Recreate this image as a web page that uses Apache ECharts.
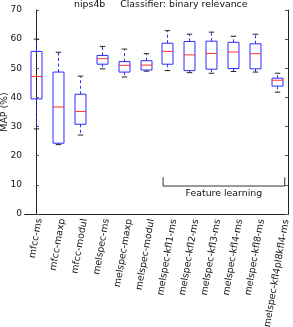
<!DOCTYPE html>
<html><head><meta charset="utf-8">
<script src="https://cdn.jsdelivr.net/npm/echarts@6/dist/echarts.min.js"></script>
<style>html,body{margin:0;padding:0;background:#fff}#c{width:293px;height:327px}</style>
</head><body><div id="c"></div>
<script>
// ---- data ----
const categories = ['mfcc-ms','mfcc-maxp','mfcc-modul','melspec-ms','melspec-maxp','melspec-modul','melspec-kfl1-ms','melspec-kfl2-ms','melspec-kfl3-ms','melspec-kfl4-ms','melspec-kfl8-ms','melspec-kfl4pl8kfl4-ms'];
const whiskerLow  = [29.2, 23.8, 27.1, 49.8, 47.0, 49.0, 49.2, 48.5, 48.3, 48.9, 48.7, 41.8];
const q1          = [39.5, 24.3, 30.8, 51.4, 48.7, 49.4, 51.4, 49.2, 49.7, 49.9, 49.8, 43.9];
const median      = [47.2, 36.7, 35.2, 53.3, 51.0, 51.1, 55.8, 54.6, 55.1, 55.6, 55.0, 45.9];
const q3          = [55.8, 48.7, 41.1, 54.4, 52.3, 52.6, 58.6, 59.2, 59.3, 58.9, 58.4, 46.6];
const whiskerHigh = [60.0, 55.5, 47.3, 57.5, 56.6, 55.0, 62.9, 61.7, 62.4, 61.0, 61.7, 48.3];
const yTickValues = [0, 10, 20, 30, 40, 50, 60, 70];
const titleText = 'nips4b     Classifier: binary relevance';
const yAxisTitle = 'MAP (%)';
const groupLabel = 'Feature learning';

// ---- styling / annotation placement ----
const FONT = 'DejaVu Sans';
const FS = 9.4;
const BLUE = '#2b2bff', RED = '#ff3030', CAP = '#222';
const bracket = { from: 5.8, to: 11.35, y: 9.6, yTick: 12.6, textY: 7.0 };

// per-label offset so each rotated label is centred under its tick (matplotlib ha='center')
const cv = document.createElement('canvas').getContext('2d');
cv.font = FS + 'px "' + FONT + '"';
const rot = 80;
const richLabels = {};
categories.forEach((c, i) => {
  const L = cv.measureText(c).width;
  richLabels['p' + i] = { padding: [0.171 * L, 0, 0, 0], fontSize: FS, fontFamily: FONT, color: '#111' };
});

const boxData = categories.map((c, i) => [i, whiskerLow[i], q1[i], median[i], q3[i], whiskerHigh[i]]);

function renderBox(params, api) {
  const i = api.value(0);
  const band = api.size([1, 0])[0];
  const hw = band * 0.25, cw = band * 0.125;
  const x = Math.round(api.coord([i, 0])[0]) + 0.5;
  const Y = v => api.coord([i, v])[1];
  const yl = Y(api.value(1)), y1 = Y(api.value(2)), ym = Y(api.value(3)), y3 = Y(api.value(4)), yh = Y(api.value(5));
  const dash = { stroke: BLUE, lineWidth: 1, lineDash: [3, 2.5], fill: null };
  return { type: 'group', children: [
    { type: 'line', shape: { x1: x, y1: y3, x2: x, y2: yh }, style: dash },
    { type: 'line', shape: { x1: x, y1: y1, x2: x, y2: yl }, style: dash },
    { type: 'line', shape: { x1: x - cw, y1: yh, x2: x + cw, y2: yh }, style: { stroke: CAP, lineWidth: 1 } },
    { type: 'line', shape: { x1: x - cw, y1: yl, x2: x + cw, y2: yl }, style: { stroke: CAP, lineWidth: 1 } },
    { type: 'rect', shape: { x: x - hw, y: y3, width: 2 * hw, height: y1 - y3 }, style: { stroke: BLUE, lineWidth: 1, fill: 'rgba(0,0,0,0)' } },
    { type: 'line', shape: { x1: x - hw, y1: ym, x2: x + hw, y2: ym }, style: { stroke: RED, lineWidth: 1 } }
  ]};
}

function renderBracket(params, api) {
  const a = api.coord([bracket.from, bracket.yTick]);
  const b = api.coord([bracket.from, bracket.y]);
  const c = api.coord([bracket.to, bracket.y]);
  const d = api.coord([bracket.to, bracket.yTick]);
  const t = api.coord([(bracket.from + bracket.to) / 2, bracket.textY]);
  return { type: 'group', children: [
    { type: 'polyline', shape: { points: [a, b, c, d] }, style: { stroke: '#333', lineWidth: 1, fill: null } },
    { type: 'text', x: t[0], y: t[1], style: { text: groupLabel, fontSize: FS, fontFamily: FONT, fill: '#111', align: 'center', verticalAlign: 'middle' } }
  ]};
}

const axisLineStyle = { lineStyle: { color: '#222', width: 1 } };
const chart = echarts.init(document.getElementById('c'), null, { renderer: 'canvas' });
chart.setOption({
  animation: false,
  textStyle: { fontFamily: FONT },
  title: { text: titleText, left: 74, top: 0, padding: 0, textStyle: { fontSize: FS, fontWeight: 'normal', color: '#111', fontFamily: FONT } },
  grid: { left: 25, right: 5, top: 10, bottom: 113, containLabel: false, outerBoundsMode: 'none' },
  xAxis: [
    { type: 'category', data: categories, position: 'bottom', boundaryGap: true,
      axisLine: axisLineStyle, axisTick: { inside: true, alignWithLabel: true, length: 3, lineStyle: { color: '#555' } },
      axisLabel: { interval: 0, rotate: rot, margin: 4, fontSize: FS, fontFamily: FONT, color: '#111', hideOverlap: false,
        formatter: (v, i) => '{p' + i + '|' + v + '}', rich: richLabels },
      splitLine: { show: false } },
    { type: 'category', data: categories, position: 'top', boundaryGap: true,
      axisLine: axisLineStyle, axisTick: { inside: true, alignWithLabel: true, length: 3, lineStyle: { color: '#555' } },
      axisLabel: { show: false }, splitLine: { show: false } },
    { type: 'value', min: -0.5, max: 11.5, show: false }
  ],
  yAxis: [
    { type: 'value', min: yTickValues[0], max: yTickValues[yTickValues.length - 1], interval: 10, position: 'left',
      name: yAxisTitle, nameLocation: 'middle', nameGap: 16, nameRotate: 90, nameMoveOverlap: false,
      nameTextStyle: { fontSize: FS, fontFamily: FONT, color: '#111' },
      axisLine: { show: true, lineStyle: { color: '#222', width: 1 } },
      axisTick: { show: true, inside: true, length: 3, lineStyle: { color: '#555' } },
      axisLabel: { fontSize: 9, fontFamily: FONT, color: '#111', margin: 3 },
      splitLine: { show: false } },
    { type: 'value', min: yTickValues[0], max: yTickValues[yTickValues.length - 1], interval: 10, position: 'right',
      axisLine: { show: true, lineStyle: { color: '#222', width: 1 } },
      axisTick: { show: true, inside: true, length: 3, lineStyle: { color: '#555' } },
      axisLabel: { show: false }, splitLine: { show: false } }
  ],
  series: [
    { type: 'custom', xAxisIndex: 0, yAxisIndex: 0, data: boxData, renderItem: renderBox,
      encode: { x: 0, y: [1, 2, 3, 4, 5] }, silent: true, clip: false },
    { type: 'custom', xAxisIndex: 2, yAxisIndex: 0, data: [[bracket.from, bracket.y]], renderItem: renderBracket,
      encode: { x: 0, y: 1 }, silent: true, clip: false }
  ]
});
</script></body></html>
